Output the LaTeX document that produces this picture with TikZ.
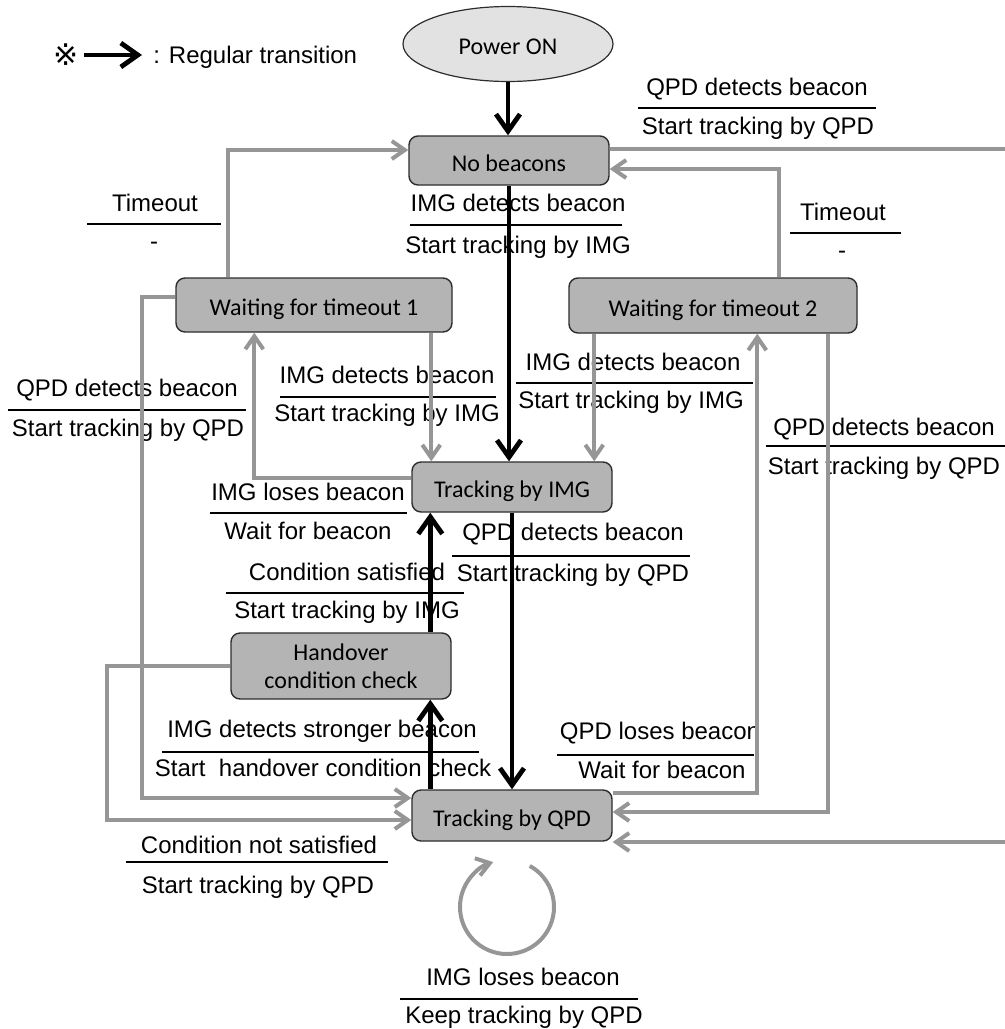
\documentclass[tikz,border=0pt]{standalone}
\usepackage{fontspec}
\setmainfont{Liberation Sans}
\newfontfamily\boxfont{Carlito}
\newfontfamily\markfont{DejaVu Sans}
\usetikzlibrary{arrows.meta,shapes.geometric,calc}

\definecolor{linegray}{RGB}{150,150,150}
\definecolor{statefill}{RGB}{180,180,180}
\definecolor{startfill}{RGB}{226,226,226}
\definecolor{edgeline}{RGB}{45,45,45}

% transition label: event above a rule, action below it
% #1 name, #2 event position, #3 event, #4/#5 rule ends, #6 rule height,
% #7 action position, #8 action
\newcommand\tlabel[8]{%
  \node[lbl] (#1t) at (#2) {#3};
  \draw[sep] (#4,#6) -- (#5,#6);
  \node[lbl] (#1b) at (#7) {#8};}

\begin{document}
\begin{tikzpicture}[x=0.5pt,y=-0.5pt,
  state/.style={draw=edgeline, line width=0.7pt, fill=statefill,
    rounded corners=4.5pt, inner sep=0pt,
    font=\boxfont\fontsize{12}{14}\selectfont},
  oneline/.style={text height=10.7pt, text depth=0pt},
  lbl/.style={inner sep=0pt, font=\fontsize{12}{14}\selectfont,
    text height=8.6pt, text depth=0pt},
  sep/.style={line width=1pt, black},
  blackarrow/.style={line width=2.4pt, black,
    -{Straight Barb[length=8.5pt,width=12pt]}},
  grayarrow/.style={line width=2pt, linegray,
    -{Straight Barb[length=6.5pt,width=9pt]}},
]
\useasboundingbox (0,0) rectangle (1005,1029);
\clip (0,0) rectangle (1005,1029);

% legend
\node[inner sep=0pt, font=\markfont\fontsize{15}{16}\selectfont] (mark) at (66,55) {※};
\node[lbl, anchor=west] (legtext) at (153,55) {: Regular transition};

% states
\node[state, ellipse, fill=startfill, line width=0.6pt, oneline,
      minimum width=105pt, minimum height=37.5pt] (pw) at (508,44) {Power ON};
\node[state, oneline, minimum width=100pt, minimum height=24.5pt] (nb) at (509,160.5) {No beacons};
\node[state, oneline, minimum width=138pt, minimum height=27pt] (w1) at (314,305) {Waiting for timeout 1};
\node[state, oneline, minimum width=144pt, minimum height=27.5pt] (w2) at (713,305.5) {Waiting for timeout 2};
\node[state, oneline, minimum width=100pt, minimum height=25pt] (timg) at (512,487) {Tracking by IMG};
\node[state, align=center, minimum width=110pt, minimum height=33pt] (ho) at (341,666) {Handover\\condition check};
\node[state, oneline, minimum width=100pt, minimum height=25.5pt] (tq) at (512,815.5) {Tracking by QPD};

% transition labels
\tlabel{la}{757,87}{QPD detects beacon}{638}{876}{108}{758,126}{Start tracking by QPD}
\tlabel{lb}{518,203}{IMG detects beacon}{410}{622}{225}{518,245}{Start tracking by IMG}
\tlabel{lc}{155,203}{Timeout}{87}{221}{224}{154,241}{-}
\tlabel{ld}{843,212}{Timeout}{790}{901}{233}{842,250}{-}
\tlabel{le}{127,388}{QPD detects beacon}{8}{246}{410}{128,428}{Start tracking by QPD}
\tlabel{lf}{387,375}{IMG detects beacon}{280}{496}{397}{387,413}{Start tracking by IMG}
\tlabel{lg}{633,362}{IMG detects beacon}{516}{753}{383}{631,400}{Start tracking by IMG}
\tlabel{lh}{884,427}{QPD detects beacon}{766}{1005}{446}{884,466}{Start tracking by QPD}
\tlabel{li}{308,492}{IMG loses beacon}{210}{407}{513}{308,531}{Wait for beacon}
\tlabel{lj}{573,532}{QPD detects beacon}{452}{690}{556}{573,573}{Start tracking by QPD}
\tlabel{lk}{347,572}{Condition satisfied}{226}{464}{593}{347,610}{Start tracking by IMG}
\tlabel{ll}{322,729}{IMG detects stronger beacon}{162}{479}{752}{323,768}{Start\ \ handover condition check}
\tlabel{lm}{660,731}{QPD loses beacon}{557}{754}{755}{662,770}{Wait for beacon}
\tlabel{ln}{259,845}{Condition not satisfied}{126}{388}{862}{258,885}{Start tracking by QPD}
\tlabel{lo}{523,977}{IMG loses beacon}{400}{638}{999}{524,1015}{Keep tracking by QPD}

% legend arrow
\draw[blackarrow, shorten <=2.5pt, shorten >=5.5pt] (mark.east) -- (legtext.west);

% regular transitions
\draw[blackarrow] (pw.south) -- (pw.south |- nb.north);
\draw[blackarrow] (nb.south) -- (nb.south |- timg.north);
\draw[blackarrow] (timg.south) -- (tq.north);
\draw[blackarrow] ($(tq.north west)+(19,0)$) -- ($(ho.south west)+(200,0)$);
\draw[blackarrow] ($(ho.north west)+(200,0)$) -- ($(timg.south west)+(19,0)$);

% other transitions
\draw[grayarrow] ($(w1.north west)+(53,0)$) |- ($(nb.west)+(0,-10.5)$);
\draw[grayarrow] ($(w2.north west)+(211,0)$) |- ($(nb.east)+(0,8.5)$);
\coordinate (offA) at (1015,149);
\coordinate (offB) at (1015,842);
\draw[grayarrow] ($(nb.east)+(0,-11.5)$) -- (offA) -- (offB) -- ($(tq.east)+(0,26.5)$);
\draw[grayarrow] ($(w1.west)+(0,-8)$) -- ++(-33,0) |- ($(tq.west)+(0,-17.5)$);
\draw[grayarrow] (ho.west) -- ++(-123,0) |- ($(tq.west)+(0,4.5)$);
\draw[grayarrow] ($(timg.west)+(0,-9)$) -| ($(w1.south west)+(79,0)$);
\draw[grayarrow] ($(w1.south west)+(256,0)$) -- ($(timg.north west)+(20,0)$);
\draw[grayarrow] ($(w2.south west)+(26,0)$) -- ($(timg.north west)+(183,0)$);
\draw[grayarrow] ($(tq.east)+(0,-22.5)$) -| ($(w2.south west)+(189,0)$);
\draw[grayarrow] ($(w2.south west)+(260,0)$) |- ($(tq.east)+(0,-3.5)$);

% self loop on Tracking by QPD
\coordinate (loopc) at (507,907);
\draw[grayarrow] ($(loopc)+(-61:47)$) arc[start angle=-61, end angle=253, radius=47];
\end{tikzpicture}
\end{document}
